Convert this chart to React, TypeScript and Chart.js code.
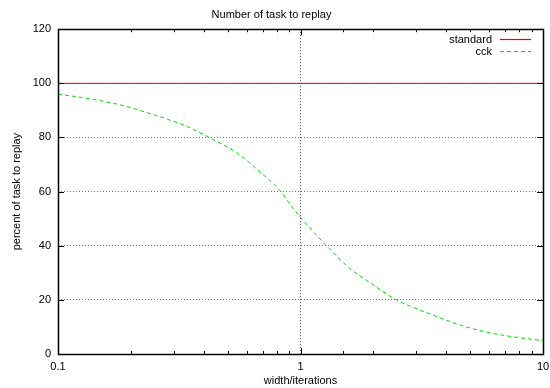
import React, { useEffect, useRef } from "react";
import { Chart, registerables } from "chart.js";

Chart.register(...registerables);

const chartTitle = "Number of task to replay";
const xTitle = "width/iterations";
const yTitle = "percent of task to replay";

const standardLabel = "standard";
const standardX = [0.1, 10];
const standardY = [100, 100];

const cckLabel = "cck";
const cckX = [0.1, 0.133, 0.183, 0.25, 0.29, 0.33, 0.42, 0.55, 0.68, 0.83, 0.9, 1.0, 1.28, 1.6, 1.94, 2.5, 3.06, 3.42, 4.7, 6.4, 10];
const cckY = [96, 94.4, 91.9, 88.3, 86.4, 84.6, 80, 74.1, 67.3, 60, 55.6, 50.5, 40, 31.6, 26.3, 19.9, 16.5, 14.8, 10.3, 7.4, 4.9];

const xMin = 0.1;
const xMax = 10;
const yMin = 0;
const yMax = 120;
const yStep = 20;

const STANDARD_COLOR = "#ee0000";
const CCK_COLOR = "#00e000";
const CCK_DASH = [4, 3];

const FONT = "'Liberation Sans', Arial, sans-serif";

const isDecade = (v: number) => Math.abs(Math.log10(v) - Math.round(Math.log10(v))) < 1e-6;

const legendItems = [
  { label: standardLabel, color: STANDARD_COLOR, dash: [] as number[] },
  { label: cckLabel, color: CCK_COLOR, dash: CCK_DASH },
];

const frame = {
  id: "frame",
  afterDraw(chart: any) {
    const { ctx, chartArea: a } = chart;
    const xs = chart.scales.x;
    const ys = chart.scales.y;
    ctx.save();
    ctx.strokeStyle = "#000";
    ctx.lineWidth = 1;
    ctx.setLineDash([]);
    ctx.beginPath();
    xs.ticks.forEach((t: any) => {
      const px = Math.round(xs.getPixelForValue(t.value)) + 0.5;
      const len = isDecade(t.value) ? 6 : 3;
      ctx.moveTo(px, a.bottom);
      ctx.lineTo(px, a.bottom - len);
      ctx.moveTo(px, a.top);
      ctx.lineTo(px, a.top + len);
    });
    ys.ticks.forEach((t: any) => {
      const py = Math.round(ys.getPixelForValue(t.value)) + 0.5;
      ctx.moveTo(a.left, py);
      ctx.lineTo(a.left + 6, py);
      ctx.moveTo(a.right, py);
      ctx.lineTo(a.right - 6, py);
    });
    ctx.stroke();
    ctx.lineWidth = 1.5;
    ctx.strokeRect(Math.round(a.left) + 0.5, Math.round(a.top) + 0.5, Math.round(a.right - a.left), Math.round(a.bottom - a.top));
    ctx.restore();

    // legend
    legendItems.forEach((item, i) => {
      const y = Math.round(a.top + 10 + i * 12) + 0.5;
      ctx.save();
      ctx.font = `11px ${FONT}`;
      ctx.textAlign = "right";
      ctx.textBaseline = "middle";
      ctx.fillStyle = "#000";
      ctx.fillText(item.label, a.right - 51, y);
      ctx.restore();
      ctx.save();
      ctx.strokeStyle = item.color;
      ctx.lineWidth = 1.2;
      ctx.setLineDash(item.dash);
      ctx.beginPath();
      ctx.moveTo(a.right - 43, y);
      ctx.lineTo(a.right - 12, y);
      ctx.stroke();
      ctx.restore();
    });
  },
};

export default function App() {
  const ref = useRef<HTMLCanvasElement | null>(null);

  useEffect(() => {
    document.body.style.margin = "0";
    if (!ref.current) return;
    const chart = new Chart(ref.current, {
      type: "line",
      data: {
        datasets: [
          {
            label: standardLabel,
            data: standardX.map((x, i) => ({ x, y: standardY[i] })),
            borderColor: STANDARD_COLOR,
            borderWidth: 1,
            pointRadius: 0,
            fill: false,
          },
          {
            label: cckLabel,
            data: cckX.map((x, i) => ({ x, y: cckY[i] })),
            borderColor: CCK_COLOR,
            borderWidth: 1,
            borderDash: CCK_DASH,
            pointRadius: 0,
            fill: false,
            cubicInterpolationMode: "monotone",
          },
        ],
      },
      options: {
        animation: false,
        responsive: true,
        maintainAspectRatio: false,
        layout: { padding: { left: 0, right: 7, top: 0, bottom: 0 } },
        plugins: {
          legend: { display: false },
          tooltip: { enabled: false },
          title: {
            display: true,
            text: chartTitle,
            color: "#000",
            font: { family: FONT, size: 11, weight: "normal" },
            padding: { top: 8, bottom: 8 },
          },
        },
        scales: {
          x: {
            type: "logarithmic",
            min: xMin,
            max: xMax,
            afterFit: (s: any) => {
              s.height = 34;
              s.paddingLeft = 0;
              s.paddingRight = 0;
            },
            border: { display: false, dash: [1, 2] },
            grid: {
              drawTicks: false,
              color: (c: any) => (c.tick && Math.abs(c.tick.value - 1) < 1e-9 ? "rgba(0,0,0,0.75)" : "rgba(0,0,0,0)"),
              lineWidth: 1,
            },
            ticks: {
              autoSkip: false,
              maxRotation: 0,
              padding: 6,
              color: "#000",
              font: { family: FONT, size: 11 },
              callback: (v: any) => (isDecade(Number(v)) ? String(Number(v)) : ""),
            },
            title: {
              display: true,
              text: xTitle,
              color: "#000",
              font: { family: FONT, size: 11 },
              padding: { top: 0, bottom: 0 },
            },
          },
          y: {
            type: "linear",
            min: yMin,
            max: yMax,
            afterFit: (s: any) => {
              s.width = 58;
            },
            border: { display: false, dash: [1, 2] },
            grid: {
              drawTicks: false,
              color: (c: any) =>
                c.tick && c.tick.value > yMin && c.tick.value < yMax ? "rgba(0,0,0,0.55)" : "rgba(0,0,0,0)",
              lineWidth: 1,
            },
            ticks: {
              stepSize: yStep,
              padding: 7,
              color: "#000",
              font: { family: FONT, size: 11 },
            },
            title: {
              display: true,
              text: yTitle,
              color: "#000",
              font: { family: FONT, size: 11 },
              padding: { top: 10, bottom: 0 },
            },
          },
        },
      } as any,
      plugins: [frame],
    });
    return () => chart.destroy();
  }, []);

  return (
    <div style={{ position: "absolute", left: 0, top: 0, width: 550, height: 388 }}>
      <canvas ref={ref} />
    </div>
  );
}
